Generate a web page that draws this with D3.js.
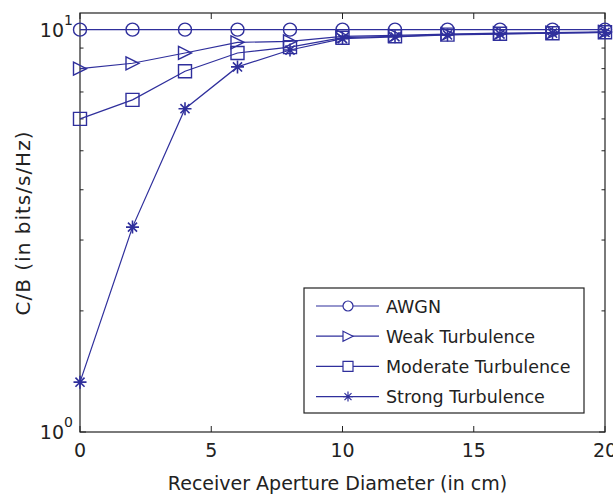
<!DOCTYPE html>
<html lang="en">
<head>
<meta charset="utf-8">
<title>C/B vs Receiver Aperture Diameter</title>
<script src="https://d3js.org/d3.v7.min.js"></script>
<style>
  body { margin: 0; background: #fff; }
  svg { display: block; }
  text { font-family: "DejaVu Sans", sans-serif; fill: #222; }
</style>
</head>
<body>
<svg width="613" height="497"></svg>
<script>
// data
const diameters = [0, 2, 4, 6, 8, 10, 12, 14, 16, 18, 20];
const awgn     = [10, 10, 10, 10, 10, 10, 10, 10, 10, 10, 10];
const weak     = [8.0, 8.25, 8.75, 9.3, 9.35, 9.62, 9.68, 9.75, 9.8, 9.83, 9.87];
const moderate = [6.0, 6.69, 7.88, 8.75, 9.05, 9.55, 9.63, 9.72, 9.77, 9.8, 9.85];
const strong   = [1.33, 3.23, 6.36, 8.08, 8.9, 9.5, 9.6, 9.7, 9.75, 9.8, 9.84];
const seriesNames = ["AWGN", "Weak Turbulence", "Moderate Turbulence", "Strong Turbulence"];
const seriesMarkers = ["circle", "triangle", "square", "star"];
const xTicks = [0, 5, 10, 15, 20];
const yMinorTicks = [2, 3, 4, 5, 6, 7, 8, 9];

const series = [awgn, weak, moderate, strong].map((vals, i) => ({
  name: seriesNames[i],
  marker: seriesMarkers[i],
  values: vals.map((v, j) => ({x: diameters[j], y: v}))
}));

const color = "#2f2f9c";
const m = {left: 80, right: 605, top: 13, bottom: 432};

const svg = d3.select("svg");
const x = d3.scaleLinear().domain([0, 20]).range([m.left, m.right]);
const y = d3.scaleLog().domain([1, 11]).range([m.bottom, m.top]);

// marker path builder
function markerPath(type, s) {
  const p = d3.path();
  if (type === "circle") {
    p.moveTo(s, 0); p.arc(0, 0, s, 0, 2 * Math.PI);
  } else if (type === "square") {
    p.rect(-s, -s, 2 * s, 2 * s);
  } else if (type === "triangle") {
    p.moveTo(-s, -s); p.lineTo(s, 0); p.lineTo(-s, s); p.closePath();
  } else {
    p.moveTo(-s, 0); p.lineTo(s, 0);
    p.moveTo(0, -s); p.lineTo(0, s);
    const d = s * 0.7;
    p.moveTo(-d, -d); p.lineTo(d, d);
    p.moveTo(-d, d); p.lineTo(d, -d);
  }
  return p.toString();
}

// axes box
svg.append("rect")
  .attr("x", m.left).attr("y", m.top)
  .attr("width", m.right - m.left).attr("height", m.bottom - m.top)
  .attr("fill", "none").attr("stroke", "#222").attr("stroke-width", 1.2);

// x ticks (inside, bottom and top)
const xt = svg.append("g");
xTicks.forEach(t => {
  xt.append("line").attr("x1", x(t)).attr("x2", x(t)).attr("y1", m.bottom).attr("y2", m.bottom - 6)
    .attr("stroke", "#222");
  xt.append("line").attr("x1", x(t)).attr("x2", x(t)).attr("y1", m.top).attr("y2", m.top + 6)
    .attr("stroke", "#222");
  xt.append("text").attr("x", x(t)).attr("y", 457)
    .attr("text-anchor", "middle").attr("font-size", 19).text(t);
});

// y minor ticks
yMinorTicks.forEach(t => {
  svg.append("line").attr("x1", m.left).attr("x2", m.left + 3.5).attr("y1", y(t)).attr("y2", y(t))
    .attr("stroke", "#222");
  svg.append("line").attr("x1", m.right).attr("x2", m.right - 3.5).attr("y1", y(t)).attr("y2", y(t))
    .attr("stroke", "#222");
});
// y major ticks
[1, 10].forEach(t => {
  svg.append("line").attr("x1", m.left).attr("x2", m.left + 6).attr("y1", y(t)).attr("y2", y(t))
    .attr("stroke", "#222");
  svg.append("line").attr("x1", m.right).attr("x2", m.right - 6).attr("y1", y(t)).attr("y2", y(t))
    .attr("stroke", "#222");
  svg.append("text").attr("x", 64).attr("y", y(t) + 7)
    .attr("text-anchor", "end").attr("font-size", 19).text("10");
  svg.append("text").attr("x", 64).attr("y", y(t) - 5)
    .attr("font-size", 14).text(Math.round(Math.log10(t)));
});

// axis labels
svg.append("text").attr("x", (m.left + m.right) / 2 - 5).attr("y", 490)
  .attr("text-anchor", "middle").attr("font-size", 19)
  .text("Receiver Aperture Diameter (in cm)");
svg.append("text")
  .attr("transform", "translate(30,223) rotate(-90)")
  .attr("text-anchor", "middle").attr("font-size", 20).attr("letter-spacing", 1)
  .text("C/B (in bits/s/Hz)");

// lines and markers
const line = d3.line().x(d => x(d.x)).y(d => y(d.y));
series.forEach(s => {
  svg.append("path").datum(s.values)
    .attr("d", line).attr("fill", "none").attr("stroke", color).attr("stroke-width", 1.2);
  svg.selectAll(null).data(s.values).enter().append("path")
    .attr("transform", d => `translate(${x(d.x)},${y(d.y)})`)
    .attr("d", markerPath(s.marker, 6.5))
    .attr("fill", "none").attr("stroke", color)
    .attr("stroke-width", s.marker === "star" ? 1.6 : 1.4);
});

// legend
const lg = svg.append("g");
lg.append("rect").attr("x", 304).attr("y", 288).attr("width", 280).attr("height", 125)
  .attr("fill", "#fff").attr("stroke", "#222").attr("stroke-width", 1.2);
series.forEach((s, i) => {
  const ly = 306 + i * 30.2;
  lg.append("line").attr("x1", 316).attr("x2", 379).attr("y1", ly).attr("y2", ly)
    .attr("stroke", color).attr("stroke-width", 1.2);
  lg.append("path").attr("transform", `translate(348,${ly})`)
    .attr("d", markerPath(s.marker, 5))
    .attr("fill", "#fff").attr("stroke", color).attr("stroke-width", 1.2);
  lg.append("text").attr("x", 386).attr("y", ly + 6.5)
    .attr("font-size", 17.5).text(s.name);
});
</script>
</body>
</html>
